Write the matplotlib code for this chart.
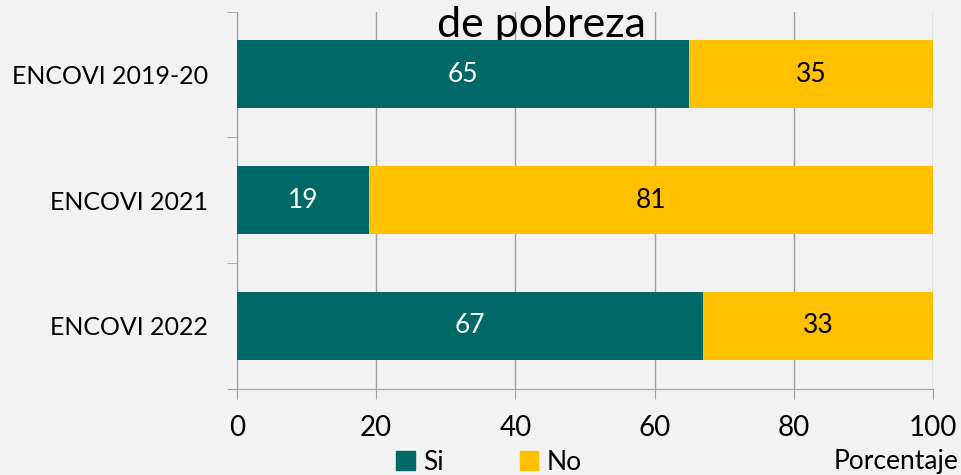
import numpy as np
import matplotlib.pyplot as plt
from matplotlib.patches import Patch

categorias = ["ENCOVI 2019-20", "ENCOVI 2021", "ENCOVI 2022"]
si = [65, 19, 67]
no = [35, 81, 33]
ticks_x = [0, 20, 40, 60, 80, 100]

verde = "#006966"
amarillo = "#ffc000"
fondo = "#f2f2f2"

plt.rcParams['font.family'] = ['Lato', 'DejaVu Sans']

fig = plt.figure(figsize=(9.61, 4.75), dpi=100, facecolor=fondo)
ax = fig.add_axes([237 / 961, 1 - 388.5 / 475, 696 / 961, 377 / 475])
ax.set_facecolor(fondo)

y = np.arange(len(categorias))
ax.barh(y, si, height=0.54, color=verde, zorder=3)
ax.barh(y, no, left=si, height=0.54, color=amarillo, zorder=3)

for i in range(len(categorias)):
    ax.text(si[i] / 2, y[i], str(si[i]), ha='center', va='center',
            color='white', fontsize=19, zorder=4)
    ax.text(si[i] + no[i] / 2, y[i], str(no[i]), ha='center', va='center',
            color='black', fontsize=19, zorder=4)

ax.set_xlim(0, 100)
ax.set_ylim(2.5, -0.5)
ax.set_xticks(ticks_x)
ax.set_xticklabels([str(t) for t in ticks_x], fontsize=20)
ax.set_yticks(y)
ax.set_yticklabels(categorias, fontsize=18)
ax.set_yticks([-0.5, 0.5, 1.5, 2.5], minor=True)
ax.tick_params(axis='y', which='major', length=0, pad=21)
ax.tick_params(axis='y', which='minor', length=7, color='#a0a0a0')
ax.tick_params(axis='x', length=7, color='#a0a0a0', pad=12)
ax.grid(axis='x', color='#a0a0a0', linewidth=1, zorder=0)

for s in ['top', 'right']:
    ax.spines[s].set_visible(False)
ax.spines['left'].set_color('#a0a0a0')
ax.spines['bottom'].set_color('#a0a0a0')
ax.spines['bottom'].set_bounds(-1.3, 100)

fig.text(959 / 961, 1 - 462 / 475, "Porcentaje", ha='right', va='center', fontsize=19)

leg = fig.legend(handles=[Patch(color=verde, label='Si'), Patch(color=amarillo, label='No')],
                 loc='center', bbox_to_anchor=(489 / 961, 1 - 462 / 475), ncol=2,
                 frameon=False, fontsize=19, handlelength=0.7, handleheight=0.7,
                 handletextpad=0.3, columnspacing=2.9)

# titulo (la primera linea queda fuera del recorte)
ax.text(541 / 961, 1 - 25 / 475, "de pobreza", ha='center', va='center', fontsize=31,
        transform=fig.transFigure, clip_on=False, zorder=2)

fig.savefig("out.png", dpi=100, facecolor=fondo)
